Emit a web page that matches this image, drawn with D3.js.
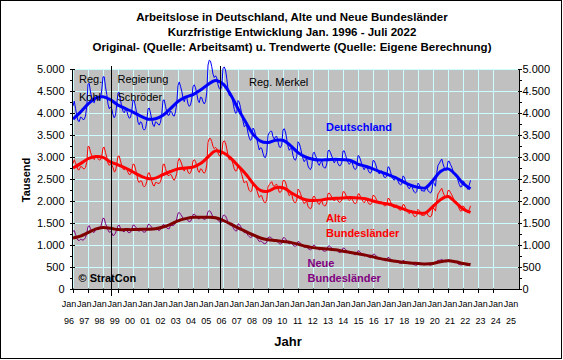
<!DOCTYPE html>
<html>
<head>
<meta charset="utf-8">
<script src="https://cdn.jsdelivr.net/npm/d3@7"></script>
<style>
  body { margin: 0; background: #fff; }
  svg { display: block; font-family: "Liberation Sans", Arial, sans-serif; }
</style>
</head>
<body>
<div id="chart"></div>
<script>
// Arbeitslose in Tausend, monatlich ab Jan. 1996
const startJahr = 1996;

const deutschland = [
  4159, 4270, 4109, 3935, 3824, 3806, 3907, 3896, 3848, 3859, 3930, 4148, // 1996
  4658, 4672, 4477, 4347, 4258, 4232, 4352, 4372, 4308, 4291, 4332, 4522, // 1997
  4823, 4819, 4594, 4422, 4202, 4095, 4138, 4095, 3965, 3892, 3946, 4196, // 1998
  4457, 4466, 4290, 4145, 4039, 4005, 4080, 4053, 3943, 3882, 3898, 4047, // 1999
  4293, 4277, 4141, 3987, 3791, 3734, 3801, 3778, 3645, 3611, 3645, 3809, // 2000
  4093, 4113, 4000, 3849, 3721, 3694, 3799, 3789, 3743, 3725, 3788, 3964, // 2001
  4290, 4296, 4156, 4023, 3946, 3954, 4047, 4018, 3942, 3930, 4026, 4225, // 2002
  4623, 4706, 4608, 4495, 4342, 4257, 4352, 4347, 4207, 4151, 4184, 4316, // 2003
  4597, 4642, 4575, 4443, 4289, 4236, 4360, 4347, 4256, 4207, 4257, 4464, // 2004
  5090, 5200, 5180, 5052, 4882, 4807, 4846, 4797, 4647, 4556, 4531, 4605, // 2005
  5012, 5048, 4977, 4790, 4535, 4399, 4386, 4372, 4237, 4084, 3995, 4008, // 2006
  4284, 4247, 4124, 3968, 3812, 3687, 3715, 3705, 3544, 3434, 3379, 3406, // 2007
  3659, 3617, 3507, 3414, 3283, 3160, 3210, 3196, 3081, 2997, 2988, 3102, // 2008
  3489, 3552, 3586, 3585, 3458, 3410, 3462, 3471, 3346, 3229, 3215, 3276, // 2009
  3617, 3643, 3568, 3406, 3242, 3153, 3192, 3188, 3031, 2945, 2927, 3016, // 2010
  3346, 3313, 3210, 3078, 2960, 2893, 2939, 2945, 2796, 2737, 2713, 2780, // 2011
  3084, 3110, 3028, 2963, 2855, 2809, 2876, 2905, 2788, 2753, 2751, 2840, // 2012
  3138, 3156, 3098, 3020, 2937, 2865, 2914, 2946, 2849, 2801, 2806, 2873, // 2013
  3136, 3138, 3055, 2943, 2882, 2833, 2871, 2902, 2808, 2733, 2717, 2764, // 2014
  3032, 3017, 2932, 2843, 2762, 2711, 2773, 2796, 2708, 2649, 2633, 2681, // 2015
  2920, 2911, 2845, 2744, 2664, 2614, 2661, 2684, 2608, 2540, 2532, 2568, // 2016
  2777, 2762, 2662, 2569, 2498, 2473, 2518, 2545, 2449, 2389, 2368, 2385, // 2017
  2570, 2546, 2458, 2384, 2315, 2276, 2325, 2351, 2256, 2204, 2186, 2210, // 2018
  2406, 2373, 2301, 2229, 2236, 2216, 2275, 2319, 2234, 2204, 2180, 2227, // 2019
  2426, 2396, 2335, 2644, 2813, 2853, 2910, 2955, 2847, 2760, 2699, 2707, // 2020
  2901, 2904, 2827, 2771, 2687, 2614, 2590, 2578, 2465, 2377, 2317, 2330, // 2021
  2462, 2428, 2362, 2309, 2260, 2363, 2470                                // 2022
];

const alteLaender = [
  2850, 2940, 2870, 2790, 2710, 2710, 2780, 2780, 2740, 2730, 2760, 2880, // 1996
  3240, 3230, 3110, 3030, 2970, 2940, 3010, 3000, 2960, 2930, 2940, 3020, // 1997
  3210, 3220, 3100, 3000, 2860, 2810, 2840, 2820, 2760, 2660, 2680, 2840, // 1998
  3020, 3020, 2910, 2810, 2730, 2710, 2740, 2720, 2650, 2600, 2610, 2690, // 1999
  2840, 2830, 2730, 2610, 2460, 2420, 2460, 2450, 2350, 2320, 2350, 2440, // 2000
  2630, 2640, 2560, 2450, 2360, 2340, 2420, 2420, 2400, 2400, 2440, 2550, // 2001
  2830, 2840, 2740, 2630, 2580, 2580, 2610, 2570, 2500, 2470, 2530, 2630, // 2002
  2900, 2970, 2910, 2840, 2730, 2680, 2750, 2760, 2660, 2620, 2640, 2730, // 2003
  2910, 2940, 2900, 2800, 2690, 2650, 2730, 2720, 2660, 2630, 2670, 2820, // 2004
  3330, 3420, 3420, 3350, 3240, 3190, 3220, 3190, 3090, 3030, 3020, 3090, // 2005
  3340, 3370, 3320, 3190, 3030, 2940, 2940, 2930, 2840, 2730, 2680, 2690, // 2006
  2800, 2780, 2690, 2600, 2490, 2410, 2440, 2440, 2320, 2240, 2210, 2230, // 2007
  2410, 2380, 2310, 2250, 2160, 2080, 2120, 2120, 2030, 1970, 1960, 2030, // 2008
  2320, 2370, 2410, 2440, 2360, 2330, 2370, 2380, 2290, 2200, 2200, 2240, // 2009
  2460, 2470, 2430, 2320, 2190, 2120, 2150, 2150, 2030, 1970, 1960, 2020, // 2010
  2270, 2240, 2170, 2080, 1990, 1940, 1980, 1990, 1880, 1840, 1820, 1870, // 2011
  2090, 2110, 2060, 2020, 1950, 1920, 1980, 2000, 1920, 1890, 1890, 1960, // 2012
  2170, 2180, 2140, 2090, 2040, 2000, 2030, 2060, 2000, 1970, 1980, 2020, // 2013
  2210, 2210, 2160, 2080, 2040, 2010, 2040, 2060, 2000, 1950, 1940, 1970, // 2014
  2160, 2160, 2100, 2040, 1990, 1960, 2010, 2030, 1970, 1930, 1920, 1960, // 2015
  2130, 2120, 2080, 2010, 1960, 1930, 1970, 1980, 1940, 1890, 1890, 1920, // 2016
  2060, 2050, 1980, 1920, 1870, 1850, 1890, 1910, 1840, 1800, 1790, 1810, // 2017
  1920, 1910, 1840, 1780, 1740, 1710, 1750, 1760, 1700, 1650, 1650, 1670, // 2018
  1810, 1780, 1730, 1670, 1680, 1670, 1710, 1740, 1670, 1650, 1640, 1680, // 2019
  1840, 1820, 1770, 2010, 2160, 2200, 2250, 2290, 2200, 2130, 2080, 2090, // 2020
  2240, 2240, 2190, 2140, 2080, 2010, 1990, 1980, 1900, 1820, 1770, 1780, // 2021
  1890, 1860, 1810, 1770, 1730, 1800, 1890                                // 2022
];

const neueLaender = [
  1310, 1330, 1240, 1150, 1110, 1100, 1130, 1120, 1110, 1130, 1170, 1270, // 1996
  1420, 1440, 1370, 1320, 1290, 1290, 1340, 1370, 1350, 1360, 1390, 1500, // 1997
  1610, 1600, 1490, 1420, 1340, 1290, 1300, 1280, 1210, 1230, 1270, 1360, // 1998
  1440, 1450, 1380, 1340, 1310, 1300, 1340, 1330, 1290, 1280, 1290, 1360, // 1999
  1450, 1450, 1410, 1380, 1330, 1310, 1340, 1330, 1300, 1290, 1300, 1370, // 2000
  1460, 1470, 1440, 1400, 1360, 1350, 1380, 1370, 1340, 1330, 1350, 1410, // 2001
  1460, 1460, 1420, 1390, 1370, 1370, 1440, 1450, 1440, 1460, 1500, 1600, // 2002
  1720, 1740, 1700, 1660, 1610, 1580, 1600, 1590, 1550, 1530, 1540, 1590, // 2003
  1690, 1700, 1680, 1640, 1600, 1590, 1630, 1630, 1600, 1580, 1590, 1640, // 2004
  1760, 1780, 1760, 1700, 1640, 1620, 1630, 1610, 1560, 1530, 1510, 1520, // 2005
  1670, 1680, 1660, 1600, 1510, 1460, 1450, 1440, 1400, 1350, 1320, 1320, // 2006
  1480, 1470, 1430, 1370, 1320, 1280, 1280, 1270, 1220, 1190, 1170, 1180, // 2007
  1250, 1240, 1200, 1160, 1120, 1080, 1090, 1080, 1050, 1030, 1030, 1070, // 2008
  1170, 1180, 1180, 1150, 1100, 1080, 1090, 1090, 1060, 1030, 1020, 1040, // 2009
  1160, 1170, 1140, 1090, 1050, 1030, 1040, 1040, 1000,  980,  970, 1000, // 2010
  1080, 1070, 1040, 1000,  970,  950,  960,  960,  920,  900,  890,  910, // 2011
   990, 1000,  970,  940,  910,  890,  900,  910,  870,  860,  860,  880, // 2012
   970,  980,  960,  930,  900,  870,  880,  890,  850,  830,  830,  850, // 2013
   930,  930,  900,  860,  840,  820,  830,  840,  810,  780,  780,  790, // 2014
   870,  860,  830,  800,  770,  750,  760,  770,  740,  720,  710,  720, // 2015
   790,  790,  770,  730,  700,  680,  690,  700,  670,  650,  640,  650, // 2016
   720,  710,  680,  650,  630,  620,  630,  640,  610,  590,  580,  580, // 2017
   650,  640,  620,  600,  580,  570,  580,  590,  560,  550,  540,  540, // 2018
   600,  590,  570,  560,  560,  550,  570,  580,  560,  550,  540,  550, // 2019
   590,  580,  570,  630,  650,  650,  660,  670,  650,  630,  620,  620, // 2020
   660,  660,  640,  630,  610,  600,  600,  600,  570,  560,  550,  550, // 2021
   570,  570,  550,  540,  530,  560,  580                                // 2022
];

// Trendwerte, halbjaehrlich (Jan. / Juli) ab 1996
const trendDeutschland = [
  3860, 4020, 4200, 4340, 4370, 4300, 4180, 4100, 4020, 3930,
  3860, 3870, 3950, 4100, 4260, 4360, 4420, 4520, 4650, 4740,
  4660, 4420, 4100, 3800, 3520, 3360, 3330, 3380, 3380, 3260,
  3100, 3000, 2950, 2930, 2940, 2950, 2940, 2920, 2840, 2790,
  2730, 2660, 2600, 2530, 2440, 2360, 2310, 2300, 2470, 2670,
  2730, 2600, 2400, 2280
];
const trendAlte = [
  2750, 2850, 2960, 3010, 2990, 2890, 2820, 2750, 2660, 2570,
  2510, 2520, 2600, 2670, 2730, 2750, 2770, 2850, 3000, 3140,
  3100, 2980, 2800, 2620, 2400, 2240, 2220, 2300, 2300, 2200,
  2100, 2030, 2010, 2020, 2050, 2060, 2070, 2080, 2070, 2050,
  2000, 1960, 1930, 1880, 1820, 1760, 1730, 1730, 1880, 2030,
  2100, 1970, 1820, 1740
];
const trendNeue = [
  1160, 1200, 1280, 1360, 1400, 1380, 1350, 1350, 1350, 1360,
  1360, 1370, 1410, 1470, 1550, 1600, 1630, 1630, 1630, 1620,
  1560, 1480, 1390, 1310, 1230, 1160, 1120, 1100, 1080, 1060,
  1020,  970,  940,  920,  910,  890,  860,  830,  800,  770,
   730,  690,  660,  630,  610,  590,  580,  570,  580,  620,
   640,  620,  580,  550
];

const yTicks = [0, 500, 1000, 1500, 2000, 2500, 3000, 3500, 4000, 4500, 5000];
const jahrLabels = ["96","97","98","99","00","01","02","03","04","05","06","07","08","09","10",
                    "11","12","13","14","15","16","17","18","19","20","21","22","23","24","25"];

// Regierungswechsel (Jahr als Dezimalzahl)
const regierungen = [
  { name: "Schröder", zeit: 1998.55 },
  { name: "Merkel", zeit: 2005.83 }
];

const W = 563, H = 360;
const plot = { left: 72, right: 519, top: 69, bottom: 289 };

const svg = d3.select("#chart").append("svg")
  .attr("width", W).attr("height", H);

svg.append("rect").attr("x", 0.5).attr("y", 0.5)
  .attr("width", W - 2).attr("height", H - 2)
  .attr("fill", "#fff").attr("stroke", "#000");

const x = d3.scaleLinear().domain([1996, 2024]).range([73, 493]);
const y = d3.scaleLinear().domain([0, 5000]).range([plot.bottom, plot.top]);
const xLabel = d3.scaleLinear().domain([0, 29]).range([69, 511]);

const de = d3.formatLocale({ decimal: ",", thousands: ".", grouping: [3], currency: ["", " €"] });
const fmt = de.format(",");

// plot area
svg.append("rect")
  .attr("x", plot.left).attr("y", plot.top)
  .attr("width", plot.right - plot.left).attr("height", plot.bottom - plot.top)
  .attr("fill", "#c0c0c0");

const grid = svg.append("g").attr("stroke", "#ccffff").attr("shape-rendering", "crispEdges");
grid.selectAll(".h").data(yTicks.slice(1)).enter().append("line")
  .attr("x1", plot.left).attr("x2", plot.right)
  .attr("y1", d => Math.round(y(d)) + 0.5).attr("y2", d => Math.round(y(d)) + 0.5);
grid.selectAll(".v").data(d3.range(1996, 2025)).enter().append("line")
  .attr("y1", plot.top).attr("y2", plot.bottom)
  .attr("x1", d => Math.round(x(d)) + 0.5).attr("x2", d => Math.round(x(d)) + 0.5);

// data lines
const monat = (arr) => arr.map((v, i) => ({ t: startJahr + i / 12, v }));
const halbjahr = (arr) => arr.map((v, i) => ({ t: startJahr + i / 2, v }));

const thin = d3.line().x(d => x(d.t)).y(d => y(d.v));
const smooth = d3.line().x(d => x(d.t)).y(d => y(d.v)).curve(d3.curveCatmullRom);

const serien = [
  { orig: neueLaender, trend: trendNeue, cOrig: "#800080", cTrend: "#800000" },
  { orig: alteLaender, trend: trendAlte, cOrig: "#ff0000", cTrend: "#ff0000" },
  { orig: deutschland, trend: trendDeutschland, cOrig: "#0000ff", cTrend: "#0000ff" }
];

serien.forEach(s => {
  svg.append("path").datum(monat(s.orig))
    .attr("d", thin).attr("fill", "none")
    .attr("stroke", s.cOrig).attr("stroke-width", 1);
  svg.append("path").datum(halbjahr(s.trend))
    .attr("d", smooth).attr("fill", "none")
    .attr("stroke", s.cTrend).attr("stroke-width", 3);
});

// government change lines
svg.selectAll(".reg").data(regierungen).enter().append("line")
  .attr("x1", d => Math.round(x(d.zeit)) + 0.5).attr("x2", d => Math.round(x(d.zeit)) + 0.5)
  .attr("y1", 66).attr("y2", (d, i) => i === 0 ? 296 : plot.bottom)
  .attr("stroke", "#000").attr("shape-rendering", "crispEdges");

// axes
const axisL = svg.append("g").attr("transform", `translate(${plot.left + 0.5},0)`)
  .call(d3.axisLeft(y).tickValues(yTicks).tickSize(3).tickPadding(5).tickFormat(fmt));
const axisR = svg.append("g").attr("transform", `translate(${plot.right + 0.5},0)`)
  .call(d3.axisRight(y).tickValues(yTicks).tickSize(2).tickPadding(1).tickFormat(fmt));
[axisL, axisR].forEach(a => {
  a.select(".domain").remove();
  a.selectAll("text").attr("font-size", 11).attr("font-family", "Liberation Sans, Arial, sans-serif").attr("fill", "#000");
  a.selectAll(".tick line").attr("shape-rendering", "crispEdges");
  a.selectAll(".tick").attr("transform", d => `translate(0,${Math.round(y(d)) + 0.5})`);
});
axisL.selectAll(".tick").append("line").attr("x2", 2).attr("stroke", "#000").attr("shape-rendering", "crispEdges");
axisR.selectAll(".tick").append("line").attr("x2", -2).attr("stroke", "#000").attr("shape-rendering", "crispEdges");

// minor ticks
const minor = yTicks.slice(0, -1).map(v => v + 250);
svg.selectAll(".minL").data(minor).enter().append("line")
  .attr("x1", plot.left - 2).attr("x2", plot.left)
  .attr("y1", d => Math.round(y(d)) + 0.5).attr("y2", d => Math.round(y(d)) + 0.5)
  .attr("stroke", "#000").attr("shape-rendering", "crispEdges");
svg.selectAll(".minR").data(minor).enter().append("line")
  .attr("x1", plot.right + 1).attr("x2", plot.right + 3)
  .attr("y1", d => Math.round(y(d)) + 0.5).attr("y2", d => Math.round(y(d)) + 0.5)
  .attr("stroke", "#000").attr("shape-rendering", "crispEdges");

const axisB = svg.append("g").attr("transform", `translate(0,${plot.bottom + 0.5})`)
  .call(d3.axisBottom(x).tickValues(d3.range(1996, 2025)).tickSize(3).tickFormat(""));
axisB.select(".domain").remove();
axisB.selectAll(".tick").attr("transform", d => `translate(${Math.round(x(d)) + 0.5},0)`);
axisB.selectAll(".tick line").attr("shape-rendering", "crispEdges");
axisB.selectAll(".tick").append("line").attr("y2", -1).attr("stroke", "#000");

const axes = svg.append("g").attr("stroke", "#000").attr("shape-rendering", "crispEdges");
axes.append("line").attr("x1", plot.left + 0.5).attr("x2", plot.left + 0.5).attr("y1", plot.top).attr("y2", plot.bottom + 1);
axes.append("line").attr("x1", plot.right + 0.5).attr("x2", plot.right + 0.5).attr("y1", plot.top).attr("y2", plot.bottom + 1);
axes.append("line").attr("x1", plot.left).attr("x2", plot.right + 1).attr("y1", plot.bottom + 0.5).attr("y2", plot.bottom + 0.5);

// x labels
const xl = svg.append("g").attr("font-size", 9).attr("text-anchor", "middle");
xl.selectAll(".jan").data(jahrLabels).enter().append("text")
  .attr("x", (d, i) => xLabel(i)).attr("y", 307).text("Jan");
xl.selectAll(".jahr").data(jahrLabels).enter().append("text")
  .attr("x", (d, i) => xLabel(i)).attr("y", 324).text(d => d);

// titles
const title = svg.append("g").attr("font-size", 11.5).attr("font-weight", "bold").attr("text-anchor", "middle");
["Arbeitslose in Deutschland, Alte und Neue Bundesländer",
 "Kurzfristige Entwicklung Jan. 1996 - Juli 2022",
 "Original- (Quelle: Arbeitsamt) u. Trendwerte (Quelle: Eigene Berechnung)"]
  .forEach((t, i) => title.append("text").attr("x", 292).attr("y", 21 + i * 15).text(t));

svg.append("text").attr("transform", "translate(30,180) rotate(-90)")
  .attr("text-anchor", "middle").attr("font-size", 11).attr("font-weight", "bold").text("Tausend");
svg.append("text").attr("x", 288).attr("y", 346)
  .attr("text-anchor", "middle").attr("font-size", 13).attr("font-weight", "bold").text("Jahr");

// annotations
const notes = svg.append("g").attr("font-size", 11);
notes.append("text").attr("x", 79).attr("y", 83).text("Reg.");
notes.append("text").attr("x", 79).attr("y", 101).text("Kohl");
notes.append("text").attr("x", 117.5).attr("y", 83).text("Regierung");
notes.append("text").attr("x", 117.5).attr("y", 101).text("Schröder");
notes.append("text").attr("x", 249).attr("y", 86).text("Reg. Merkel");

const lab = svg.append("g").attr("font-size", 11).attr("font-weight", "bold");
lab.append("text").attr("x", 326).attr("y", 131).attr("fill", "#0000ff").text("Deutschland");
lab.append("text").attr("x", 326).attr("y", 222).attr("fill", "#ff0000").text("Alte");
lab.append("text").attr("x", 326).attr("y", 236.5).attr("fill", "#ff0000").text("Bundesländer");
lab.append("text").attr("x", 307.5).attr("y", 267).attr("fill", "#800080").text("Neue");
lab.append("text").attr("x", 307.5).attr("y", 281.5).attr("fill", "#800080").text("Bundesländer");
lab.append("text").attr("x", 78.5).attr("y", 282).attr("fill", "#000").text("© StratCon");
</script>
</body>
</html>
